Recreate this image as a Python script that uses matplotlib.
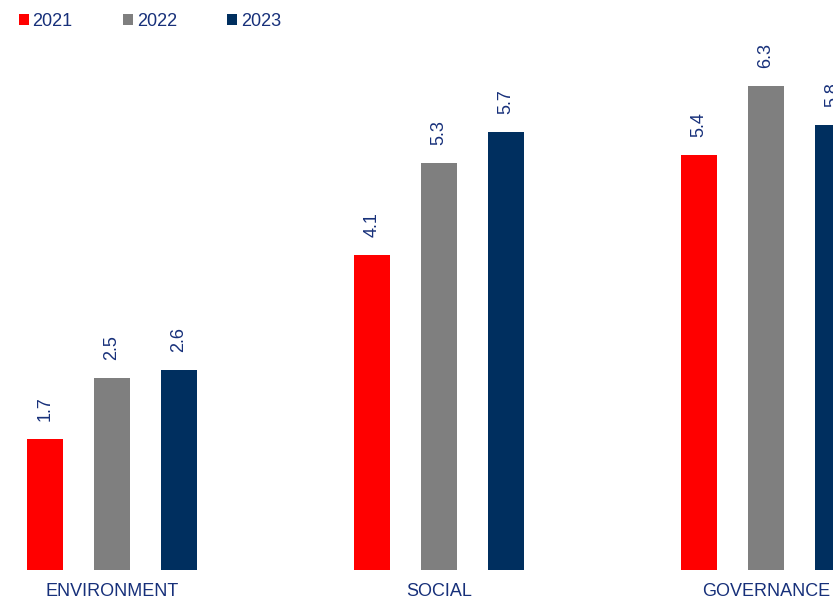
import numpy as np
import matplotlib.pyplot as plt

categories = ['ENVIRONMENT', 'SOCIAL', 'GOVERNANCE']
years = ['2021', '2022', '2023']
v2021 = [1.7, 4.1, 5.4]
v2022 = [2.5, 5.3, 6.3]
v2023 = [2.6, 5.7, 5.8]

colors = ['#FF0000', '#7F7F7F', '#002F5F']
navy = '#17307A'

plt.rcParams['font.family'] = ['Liberation Sans', 'DejaVu Sans']

fig = plt.figure(figsize=(8.33, 6), dpi=100)
ax = fig.add_axes([0, 30 / 600, 1, 570 / 600])

x = np.arange(len(categories))
w = 36 / 327
step = 67 / 327

bars = []
for i, (vals, yr) in enumerate(zip([v2021, v2022, v2023], years)):
    b = ax.bar(x + (i - 1) * step, vals, w, color=colors[i], label=yr)
    bars.append(b)
    for rect, v in zip(b, vals):
        ax.annotate(f'{v:.1f}', (rect.get_x() + rect.get_width() / 2, v),
                    xytext=(0, 13), textcoords='offset points',
                    rotation=90, ha='center', va='bottom',
                    fontsize=13, color=navy, annotation_clip=False)

ax.set_xlim(-112 / 327, (833 - 112) / 327)
ax.set_ylim(0, 570 / 76.8)
ax.set_xticks(x)
ax.set_xticklabels(categories, fontsize=13, color=navy)
ax.tick_params(axis='x', length=0, pad=9)
ax.set_yticks([])
for s in ax.spines.values():
    s.set_visible(False)

fig.legend(handles=bars, labels=years, loc='center left',
           bbox_to_anchor=(19 / 833, 1 - 21 / 600), ncol=3, frameon=False,
           fontsize=13, handlelength=0.55, handleheight=0.55,
           handletextpad=0.2, columnspacing=2.8, borderpad=0,
           borderaxespad=0, labelcolor=navy)

fig.savefig('out.png', dpi=100)
